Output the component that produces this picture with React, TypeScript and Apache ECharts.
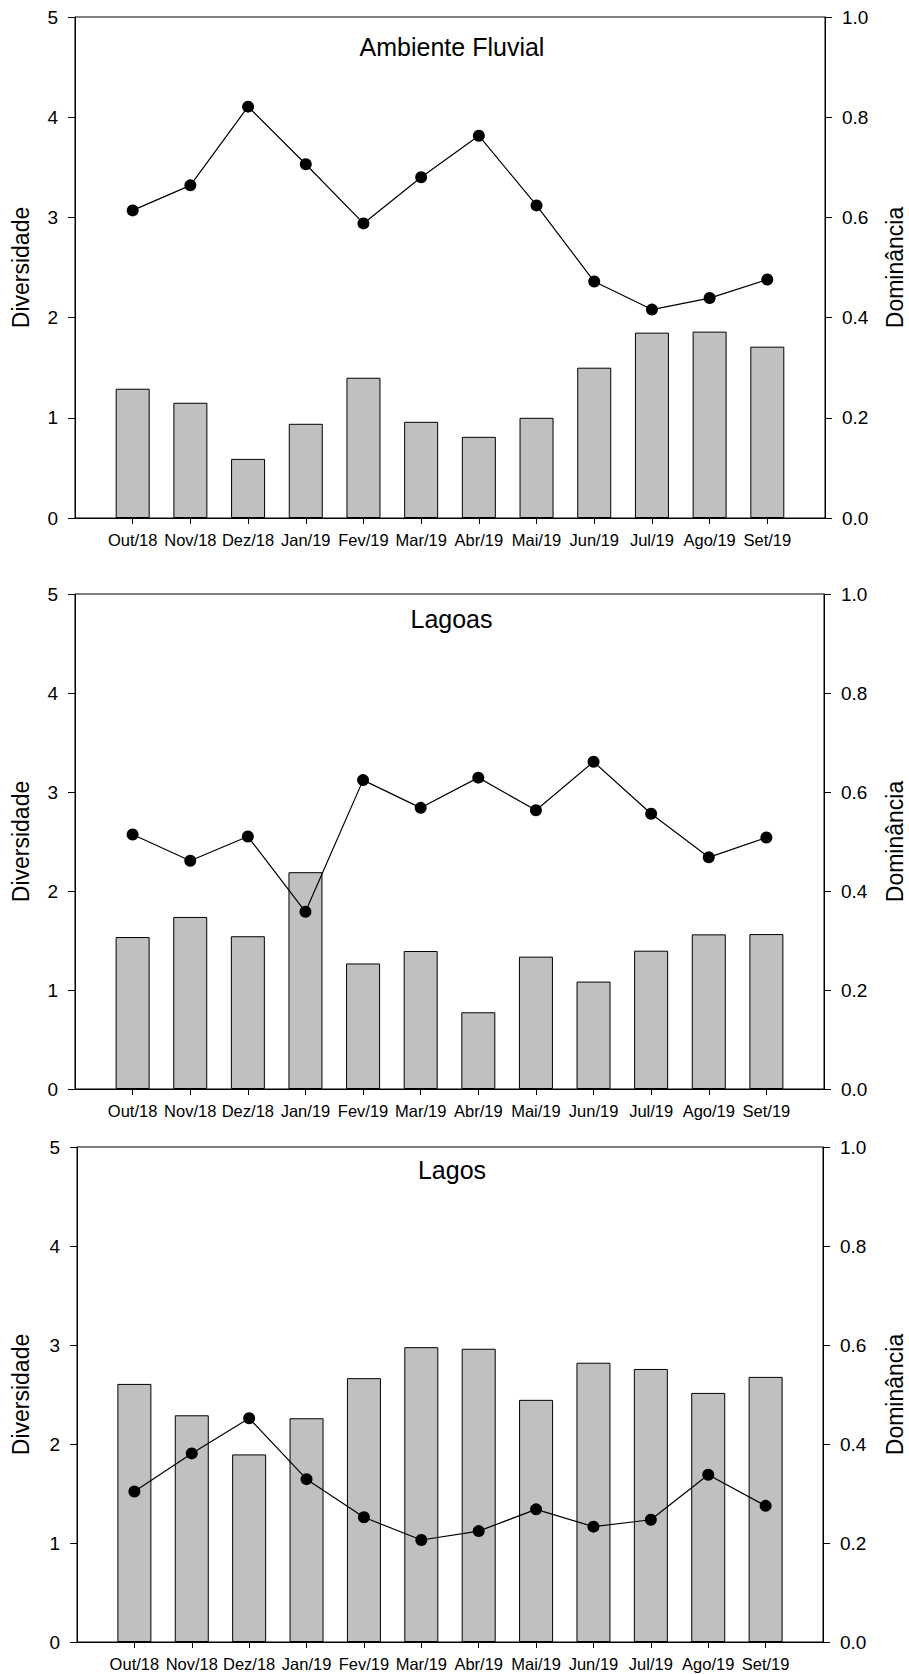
import React, { useEffect, useRef } from 'react';
import * as echarts from 'echarts';

const months = ['Out/18', 'Nov/18', 'Dez/18', 'Jan/19', 'Fev/19', 'Mar/19', 'Abr/19', 'Mai/19', 'Jun/19', 'Jul/19', 'Ago/19', 'Set/19'];
const panelTitles = ['Ambiente Fluvial', 'Lagoas', 'Lagos'];

const fluvialDiversidade = [1.29, 1.15, 0.59, 0.94, 1.4, 0.96, 0.81, 1.0, 1.5, 1.85, 1.86, 1.71];
const fluvialDominancia = [0.614, 0.664, 0.821, 0.706, 0.588, 0.68, 0.763, 0.624, 0.472, 0.416, 0.439, 0.476];

const lagoasDiversidade = [1.535, 1.738, 1.543, 2.19, 1.268, 1.394, 0.775, 1.337, 1.085, 1.397, 1.562, 1.565];
const lagoasDominancia = [0.514, 0.461, 0.51, 0.358, 0.624, 0.568, 0.629, 0.563, 0.661, 0.556, 0.468, 0.508];

const lagosDiversidade = [2.607, 2.29, 1.895, 2.26, 2.665, 2.978, 2.962, 2.446, 2.821, 2.758, 2.516, 2.678];
const lagosDominancia = [0.304, 0.381, 0.452, 0.329, 0.252, 0.206, 0.224, 0.268, 0.233, 0.247, 0.338, 0.275];

const diversidadeRange = [0, 5, 1];
const dominanciaRange = [0, 1, 0.2];

const FONT = "'Liberation Sans', Arial, Helvetica, sans-serif";

export default function App() {
  const ref = useRef<HTMLDivElement>(null);

  useEffect(() => {
    document.body.style.margin = '0';
    if (!ref.current) return;
    const chart = echarts.init(ref.current, undefined, { renderer: 'svg' });

    const panels = [
      { left: 75, top: 17, width: 750, height: 501, titleDy: 30, div: fluvialDiversidade, dom: fluvialDominancia },
      { left: 75, top: 594, width: 749, height: 495, titleDy: 24.5, div: lagoasDiversidade, dom: lagoasDominancia },
      { left: 77, top: 1147, width: 746, height: 495, titleDy: 22.5, div: lagosDiversidade, dom: lagosDominancia },
    ];

    const cats = ['', ...months, ''];
    const pad = (a: number[]) => ['-', ...a, '-'];

    const grid: any[] = [];
    const xAxis: any[] = [];
    const yAxis: any[] = [];
    const series: any[] = [];
    const graphic: any[] = [];

    panels.forEach((p, i) => {
      grid.push({
        left: p.left, top: p.top, width: p.width, height: p.height,
        show: true, borderColor: '#000', borderWidth: 1, backgroundColor: 'transparent',
      });
      xAxis.push({
        gridIndex: i, type: 'category', data: cats, boundaryGap: false,
        axisLine: { show: true, lineStyle: { color: '#000', width: 1 } },
        axisTick: { show: true, interval: (idx: number) => idx > 0 && idx < cats.length - 1, length: 6, lineStyle: { color: '#000' } },
        axisLabel: { interval: 0, color: '#000', fontSize: 16.5, fontFamily: FONT, margin: 13 },
        splitLine: { show: false },
      });
      yAxis.push({
        gridIndex: i, type: 'value', position: 'left',
        min: diversidadeRange[0], max: diversidadeRange[1], interval: diversidadeRange[2],
        axisLine: { show: true, lineStyle: { color: '#000', width: 1 } },
        axisTick: { show: true, length: 7, lineStyle: { color: '#000' } },
        axisLabel: { color: '#000', fontSize: 19, fontFamily: FONT, margin: 17 },
        splitLine: { show: false },
      });
      yAxis.push({
        gridIndex: i, type: 'value', position: 'right',
        min: dominanciaRange[0], max: dominanciaRange[1], interval: dominanciaRange[2],
        axisLine: { show: true, lineStyle: { color: '#000', width: 1 } },
        axisTick: { show: true, length: 7, lineStyle: { color: '#000' } },
        axisLabel: { color: '#000', fontSize: 19, fontFamily: FONT, margin: 17, formatter: (v: number) => v.toFixed(1) },
        splitLine: { show: false },
      });
      series.push({
        type: 'bar', xAxisIndex: i, yAxisIndex: i * 2, data: pad(p.div), barWidth: 34,
        itemStyle: { color: '#c0c0c0', borderColor: '#000', borderWidth: 1 }, z: 2,
      });
      series.push({
        type: 'line', xAxisIndex: i, yAxisIndex: i * 2 + 1, data: pad(p.dom),
        symbol: 'circle', symbolSize: 12, showSymbol: true,
        itemStyle: { color: '#000' }, lineStyle: { color: '#000', width: 1.2 }, z: 3,
      });
      const cx = p.left + p.width / 2 + 2;
      const cy = p.top + p.height / 2;
      graphic.push({
        type: 'text', x: cx, y: p.top + p.titleDy,
        style: { text: panelTitles[i], fontSize: 25, fontFamily: FONT, fill: '#000', textAlign: 'center', textVerticalAlign: 'middle' },
      });
      graphic.push({
        type: 'text', x: 21, y: cy, rotation: Math.PI / 2,
        style: { text: 'Diversidade', fontSize: 23, fontFamily: FONT, fill: '#000', textAlign: 'center', textVerticalAlign: 'middle' },
      });
      graphic.push({
        type: 'text', x: 895, y: cy, rotation: Math.PI / 2,
        style: { text: 'Dominância', fontSize: 23, fontFamily: FONT, fill: '#000', textAlign: 'center', textVerticalAlign: 'middle' },
      });
    });

    chart.setOption({
      animation: false,
      backgroundColor: '#fff',
      grid, xAxis, yAxis, series, graphic,
    });
    return () => chart.dispose();
  }, []);

  return <div ref={ref} style={{ width: 909, height: 1674 }} />;
}
